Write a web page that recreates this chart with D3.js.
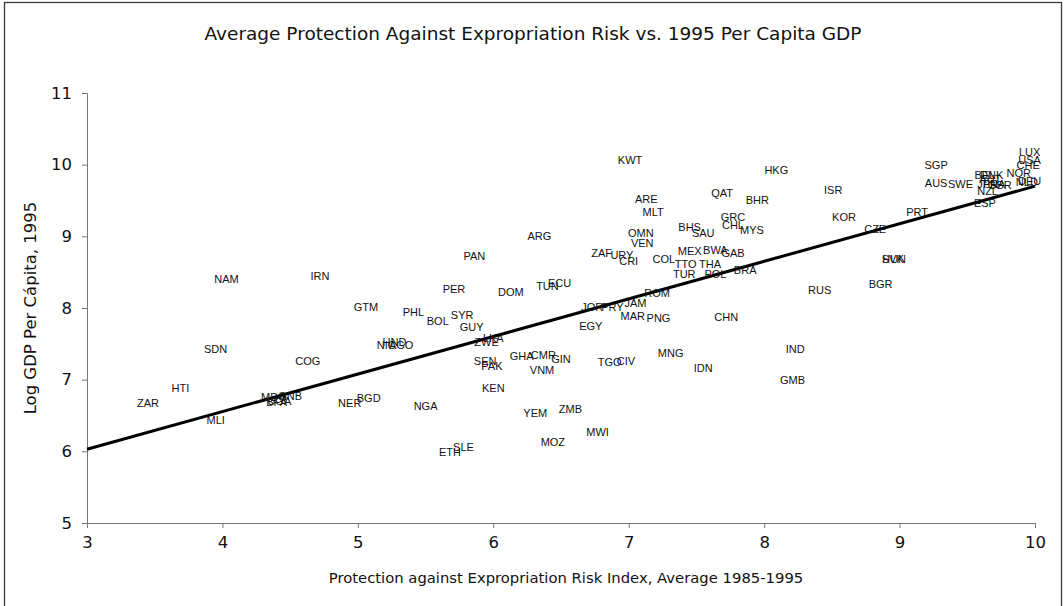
<!DOCTYPE html>
<html>
<head>
<meta charset="utf-8">
<script src="https://cdn.jsdelivr.net/npm/d3@7"></script>
<style>
  html, body { margin: 0; padding: 0; background: #fff; }
  svg { display: block; }
</style>
</head>
<body>
<svg id="chart" width="1064" height="606"></svg>
<script>
// ---------- data ----------
const titleText = "Average Protection Against Expropriation Risk vs. 1995 Per Capita GDP";
const xTitle = "Protection against Expropriation Risk Index, Average 1985-1995";
const yTitle = "Log GDP Per Cápita, 1995";
const xTicks = [3, 4, 5, 6, 7, 8, 9, 10];
const yTicks = [5, 6, 7, 8, 9, 10, 11];
const fitX = [3, 10];
const fitY = [6.03, 9.70];

const countries = ["LUX","USA","CHE","NOR","NLD","DEU","BEL","DNK","AUT","FRA","GBR","JPN","NZL","ESP",
  "SGP","AUS","SWE","PRT","ISR","KOR","CZE","SVK","HUN","BGR","RUS","IND","GMB","HKG","KWT","QAT","BHR",
  "ARE","MLT","GRC","CHL","MYS","BHS","SAU","OMN","VEN","ZAF","URY","CRI","MEX","BWA","GAB","COL","TTO",
  "THA","TUR","POL","BRA","ROM","ARG","PAN","NAM","IRN","PER","DOM","TUN","ECU","GTM","PHL","BOL","SYR",
  "GUY","NIC","AGO","HND","LKA","ZWE","SEN","PAK","GHA","CMR","GIN","VNM","KEN","NER","BGD","NGA","YEM",
  "ZMB","JOR","PRY","JAM","MAR","PNG","EGY","CHN","TGO","CIV","MNG","IDN","MWI","MOZ","ETH","SLE","SDN",
  "COG","HTI","ZAR","MLI","MDG","GNB","BFA","UGA"];
const protection = [9.96,9.96,9.95,9.88,9.94,9.96,9.63,9.68,9.67,9.70,9.74,9.65,9.65,9.63,
  9.27,9.27,9.45,9.13,8.51,8.59,8.82,8.95,8.96,8.86,8.41,8.23,8.21,8.09,7.01,7.69,7.95,
  7.13,7.18,7.77,7.77,7.91,7.45,7.55,7.09,7.10,6.80,6.95,7.00,7.45,7.64,7.77,7.26,7.42,
  7.60,7.41,7.64,7.86,7.21,6.34,5.86,4.03,4.72,5.71,6.13,6.40,6.49,5.06,5.41,5.59,5.77,
  5.84,5.21,5.32,5.27,6.00,5.95,5.94,5.99,6.21,6.37,6.50,6.36,6.00,4.94,5.08,5.50,6.31,
  6.57,6.73,6.88,7.05,7.03,7.22,6.72,7.72,6.86,6.98,7.31,7.55,6.77,6.44,5.68,5.78,3.95,
  4.63,3.69,3.45,3.95,4.38,4.50,4.40,4.42];
const logGdp = [10.18,10.07,10.00,9.88,9.76,9.77,9.85,9.86,9.80,9.73,9.72,9.73,9.63,9.47,
  9.99,9.74,9.73,9.34,9.65,9.27,9.10,8.68,8.68,8.33,8.25,7.43,7.00,9.92,10.06,9.61,9.50,
  9.52,9.34,9.27,9.16,9.09,9.13,9.05,9.05,8.90,8.76,8.74,8.65,8.79,8.81,8.76,8.69,8.62,
  8.62,8.48,8.48,8.53,8.21,9.00,8.72,8.40,8.45,8.26,8.22,8.31,8.35,8.01,7.95,7.82,7.90,
  7.73,7.48,7.48,7.53,7.58,7.53,7.26,7.19,7.33,7.34,7.29,7.13,6.88,6.68,6.75,6.63,6.53,
  6.59,8.02,8.01,8.07,7.89,7.86,7.75,7.88,7.25,7.26,7.37,7.16,6.27,6.13,5.99,6.06,7.43,
  7.26,6.88,6.68,6.44,6.76,6.77,6.69,6.70];

// ---------- layout ----------
const svg = d3.select("#chart");
const plot = { left: 87, right: 1035, top: 93, bottom: 523 };

const x = d3.scaleLinear().domain([3, 10]).range([plot.left, plot.right]);
const y = d3.scaleLinear().domain([5, 11]).range([plot.bottom, plot.top]);

// outer frame
svg.append("rect")
  .attr("x", 4.5).attr("y", 2.5)
  .attr("width", 1057).attr("height", 640)
  .attr("fill", "none").attr("stroke", "#3a3a3a").attr("stroke-width", 1.3);

const axisFont = "'DejaVu Sans', Verdana, sans-serif";

// title
svg.append("text")
  .attr("x", 533).attr("y", 40)
  .attr("text-anchor", "middle")
  .attr("font-family", axisFont).attr("font-size", 18.5)
  .attr("fill", "#111")
  .text(titleText);

// x axis
const xAxis = d3.axisBottom(x).tickValues(xTicks).tickSize(5).tickPadding(8).tickFormat(d3.format("d"));
const gx = svg.append("g").attr("transform", `translate(0,${plot.bottom})`).call(xAxis);
gx.select(".domain").attr("stroke", "#777").attr("stroke-width", 1);
gx.selectAll(".tick line").attr("stroke", "#777");
gx.selectAll(".tick text").attr("font-family", axisFont).attr("font-size", 16.5).attr("fill", "#111");

// y axis
const yAxis = d3.axisLeft(y).tickValues(yTicks).tickSize(5).tickPadding(10).tickFormat(d3.format("d"));
const gy = svg.append("g").attr("transform", `translate(${plot.left},0)`).call(yAxis);
gy.select(".domain").attr("stroke", "#777").attr("stroke-width", 1);
gy.selectAll(".tick line").attr("stroke", "#777");
gy.selectAll(".tick text").attr("font-family", axisFont).attr("font-size", 16.5).attr("fill", "#111");

// axis titles
svg.append("text")
  .attr("x", 566).attr("y", 583)
  .attr("text-anchor", "middle")
  .attr("font-family", axisFont).attr("font-size", 14.8)
  .attr("fill", "#111")
  .text(xTitle);

svg.append("text")
  .attr("transform", `translate(36,${(plot.top + plot.bottom) / 2}) rotate(-90)`)
  .attr("text-anchor", "middle")
  .attr("font-family", axisFont).attr("font-size", 16.5)
  .attr("fill", "#111")
  .text(yTitle);

// fit line
const fit = fitX.map((v, i) => [v, fitY[i]]);
svg.append("path")
  .datum(fit)
  .attr("d", d3.line().x(d => x(d[0])).y(d => y(d[1])))
  .attr("stroke", "#000").attr("stroke-width", 3).attr("fill", "none");

// country labels
const pts = countries.map((c, i) => ({ c, px: protection[i], g: logGdp[i] }));
svg.append("g").selectAll("text")
  .data(pts)
  .join("text")
  .attr("x", d => x(d.px))
  .attr("y", d => y(d.g))
  .attr("dy", "0.36em")
  .attr("text-anchor", "middle")
  .attr("font-family", "'Liberation Sans', Arial, sans-serif")
  .attr("font-size", 11)
  .attr("fill", "#111")
  .text(d => d.c);
</script>
</body>
</html>
